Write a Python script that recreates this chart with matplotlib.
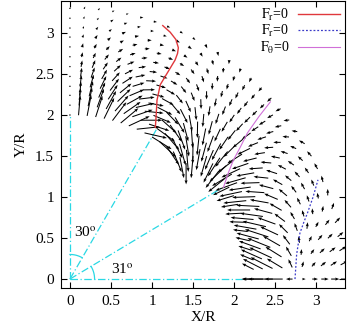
import numpy as np
import matplotlib
matplotlib.use('Agg')
import matplotlib.pyplot as plt

plt.rcParams['font.family'] = ['Liberation Serif', 'DejaVu Serif']
plt.rcParams['mathtext.fontset'] = 'stix'

nan = np.nan

# grid of the vector field (polar)
radii = [2.0, 2.12, 2.24, 2.35, 2.47, 2.59, 2.71, 2.83, 2.95, 3.06, 3.18, 3.3]
theta_deg = [0, 3, 6, 9, 12, 15, 18, 21, 24, 27, 30, 33, 36, 39, 42, 45,
             48, 51, 54, 57, 60, 63, 66, 69, 72, 75, 78, 81, 84, 87, 90]

# arrow direction relative to the outward radial direction (deg), one row per angle
rel_dir = [
    [nan, nan, 180, 180, 180, 180, 180, 0, 0, 0, 0, 0],
    [nan, nan, 150, 150, 150, 146, 112, 72, 46, 36, 30, 26],
    [nan, nan, 151, 150, 149, 142, 114, 80, 48, 37, 31, 27],
    [nan, nan, 153, 151, 149, 141, 118, 90, 56, 41, 35, 30],
    [nan, nan, 155, 153, 150, 143, 123, 98, 72, 50, 40, 34],
    [nan, nan, 158, 155, 152, 145, 128, 105, 92, 80, 65, 55],
    [nan, nan, 160, 157, 154, 147, 132, 113, 99, 91, 83, 72],
    [nan, nan, 162, 159, 156, 149, 136, 119, 106, 98, 91, 83],
    [nan, nan, 165, 162, 158, 152, 141, 127, 116, 108, 101, 95],
    [nan, nan, 170, 165, 161, 155, 147, 135, 125, 118, 111, 105],
    [nan, nan, 176, 170, 166, 160, 154, 145, 138, 132, 126, 120],
    [nan, nan, 186, 178, 172, 166, 161, 156, 151, 147, 143, 138],
    [nan, nan, 196, 188, 181, 176, 170, 166, 162, 159, 156, 152],
    [nan, nan, 205, 198, 192, 186, 181, 177, 174, 172, 170, 168],
    [nan, nan, 212, 205, 200, 194, 190, 186, 183, 182, 181, 180],
    [225, 220, 215, 210, 205, 200, 195, 192, 190, 188, 187, 185],
    [233, 227, 221, 216, 211, 207, 204, 201, 199, 197, 195, 194],
    [241, 235, 228, 223, 218, 214, 210, 208, 206, 204, 203, 202],
    [250, 243, 236, 231, 226, 222, 218, 216, 214, 212, 211, 210],
    [260, 254, 248, 244, 240, 237, 235, 233, 231, 229, 227, 225],
    [268, 264, 258, 254, 250, 248, 248, 247, 246, 244, 240, 236],
    [284, 279, 274, 270, 268, 267, 266, 265, 265, 264, 261, 255],
    [300, 294, 288, 283, 279, 277, 275, 274, 273, 272, 270, 264],
    [316, 310, 304, 298, 292, 288, 285, 283, 281, 280, 277, 271],
    [328, 323, 317, 311, 305, 300, 296, 293, 291, 289, 286, 281],
    [338, 334, 329, 324, 318, 312, 307, 302, 298, 295, 292, 288],
    [346, 343, 339, 335, 330, 325, 320, 315, 310, 306, 302, 298],
    [351, 349, 346, 343, 339, 335, 330, 325, 320, 316, 312, 308],
    [355, 354, 352, 350, 347, 344, 340, 336, 332, 328, 324, 320],
    [358, 358, 357, 356, 355, 353, 351, 348, 345, 342, 339, 336],
    [0, 0, 0, 0, 0, 0, 0, 0, 0, 0, 0, 0],
]

# arrow length (x100, in R units)
arrow_len = [
    [nan, nan, 15, 25, 30, 22, 8, 4, 7, 9, 10, 11],
    [nan, nan, 16, 27, 30, 22, 11, 7, 7, 8, 9, 10],
    [nan, nan, 17, 28, 30, 23, 13, 7, 7, 8, 9, 10],
    [nan, nan, 17, 28, 30, 24, 14, 8, 7, 8, 8, 9],
    [nan, nan, 18, 28, 30, 24, 15, 10, 8, 7, 8, 9],
    [nan, nan, 18, 28, 29, 23, 16, 10, 8, 7, 7, 8],
    [nan, nan, 19, 28, 28, 23, 17, 12, 9, 8, 7, 8],
    [nan, nan, 20, 28, 28, 23, 18, 13, 10, 9, 8, 8],
    [nan, nan, 21, 28, 28, 23, 18, 13, 10, 9, 8, 8],
    [nan, nan, 22, 28, 27, 23, 18, 14, 11, 9, 8, 8],
    [nan, nan, 22, 28, 26, 22, 17, 13, 11, 9, 8, 8],
    [nan, nan, 25, 28, 25, 21, 17, 13, 11, 9, 8, 7],
    [nan, nan, 26, 28, 25, 21, 17, 13, 11, 9, 8, 7],
    [nan, nan, 26, 27, 24, 20, 16, 13, 10, 9, 8, 7],
    [nan, nan, 26, 26, 23, 19, 15, 12, 10, 8, 7, 7],
    [26, 27, 26, 24, 21, 17, 14, 11, 9, 8, 7, 6],
    [26, 27, 26, 24, 21, 17, 13, 11, 9, 8, 7, 6],
    [27, 27, 25, 23, 20, 16, 12, 10, 8, 7, 6, 5],
    [27, 27, 25, 23, 20, 16, 12, 10, 8, 7, 6, 5],
    [28, 27, 25, 22, 19, 15, 11, 9, 8, 7, 6, 5],
    [28, 27, 24, 21, 17, 13, 10, 8, 7, 6, 5, 5],
    [28, 26, 23, 20, 16, 12, 9, 7, 6, 5, 5, 4],
    [28, 26, 23, 19, 15, 12, 9, 7, 6, 5, 5, 4],
    [28, 26, 23, 19, 15, 12, 9, 7, 6, 5, 4, 4],
    [28, 25, 22, 19, 15, 12, 9, 7, 6, 5, 4, 4],
    [28, 25, 22, 18, 15, 11, 9, 7, 6, 5, 4, 4],
    [28, 25, 21, 18, 14, 11, 8, 7, 5, 5, 4, 3],
    [27, 24, 20, 17, 13, 10, 8, 6, 5, 4, 4, 3],
    [26, 23, 19, 16, 13, 10, 7, 6, 5, 4, 3, 3],
    [24, 21, 17, 14, 11, 8, 6, 5, 4, 3, 3, 3],
    [0, 0, 0, 0, 0, 0, 0, 0, 0, 0, 0, 0],
]

# zero-force curves (x, y)
red_x = [1.04, 1.05, 1.06, 1.10, 1.16, 1.22, 1.28, 1.31, 1.32, 1.29, 1.22, 1.13]
red_y = [1.85, 2.00, 2.18, 2.37, 2.47, 2.57, 2.67, 2.75, 2.82, 2.92, 3.01, 3.09]
blue_x = [2.74, 2.76, 2.80, 2.85, 2.89, 2.96, 3.02]
blue_y = [0.00, 0.30, 0.56, 0.70, 0.80, 1.00, 1.21]
mag_x = [1.87, 1.93, 1.99, 2.08, 2.16, 2.30, 2.44]
mag_y = [1.12, 1.30, 1.45, 1.62, 1.78, 1.98, 2.16]

cyan = '#2ad8e4'

fig = plt.figure(figsize=(3.5, 3.27), dpi=100)
ax = fig.add_axes([0.174, 0.119, 0.812, 0.878])

r, th = np.meshgrid(radii, np.radians(theta_deg))
a = th + np.radians(np.array(rel_dir, dtype=float))
L = np.array(arrow_len, dtype=float) / 100.0
ok = ~np.isnan(L)
X = (r * np.cos(th))[ok]
Y = (r * np.sin(th))[ok]
U = (L * np.cos(a))[ok]
V = (L * np.sin(a))[ok]
ax.quiver(X, Y, U, V, angles='xy', scale_units='xy', scale=1, color='black',
          width=0.0036, headwidth=3, headlength=4, headaxislength=3.6, minlength=1.5, zorder=2)

# construction lines
ls = (0, (6, 2, 1, 2))
ax.plot([0, 0], [0, 2.0], color=cyan, lw=0.9, ls=ls, zorder=1)
ax.plot([0, 2.1], [0, 0], color=cyan, lw=0.9, ls=ls, zorder=1)
for ang, rr in [(60, 2.13), (31, 2.16)]:
    ax.plot([0, rr * np.cos(np.radians(ang))], [0, rr * np.sin(np.radians(ang))],
            color=cyan, lw=0.9, ls=ls, zorder=1)
t1 = np.radians(np.linspace(60, 90, 20))
ax.plot(0.3 * np.cos(t1), 0.3 * np.sin(t1), color=cyan, lw=0.9, zorder=1)
t2 = np.radians(np.linspace(0, 31, 20))
ax.plot(0.3 * np.cos(t2), 0.3 * np.sin(t2), color=cyan, lw=0.9, zorder=1)
ax.text(0.05, 0.57, r'30$^\mathrm{o}$', fontsize=11, va='center', ha='left')
ax.text(0.5, 0.12, r'31$^\mathrm{o}$', fontsize=11, va='center', ha='left')

ax.plot(red_x, red_y, color='#e0383c', lw=1.0, label=r'$\mathrm{F_r}$=0', zorder=3)
ax.plot(blue_x, blue_y, color='#3b3bc8', lw=0.9, ls=(0, (1.5, 1.5)), label=r'$\mathrm{F_r}$=0', zorder=3)
ax.plot(mag_x, mag_y, color='#d070d8', lw=0.8, label=r'$\mathrm{F_\theta}$=0', zorder=3)

ax.set_xlim(-0.11, 3.35)
ax.set_ylim(-0.11, 3.39)
ax.set_xticks([0, 0.5, 1, 1.5, 2, 2.5, 3])
ax.set_xticklabels(['0', '0.5', '1', '1.5', '2', '2.5', '3'])
ax.set_yticks([0, 0.5, 1, 1.5, 2, 2.5, 3])
ax.set_yticklabels(['0', '0.5', '1', '1.5', '2', '2.5', '3'])
ax.tick_params(direction='in', top=True, right=True, labelsize=11, length=4, width=0.8, pad=5)
ax.set_xlabel('X/R', fontsize=11, labelpad=2)
ax.set_ylabel('Y/R', fontsize=11, labelpad=5)

leg = ax.legend(loc='upper right', frameon=False, fontsize=10, markerfirst=False,
                handlelength=3.0, handletextpad=0.6, labelspacing=0.05,
                borderaxespad=0.0)

fig.savefig('out.png', dpi=100)
